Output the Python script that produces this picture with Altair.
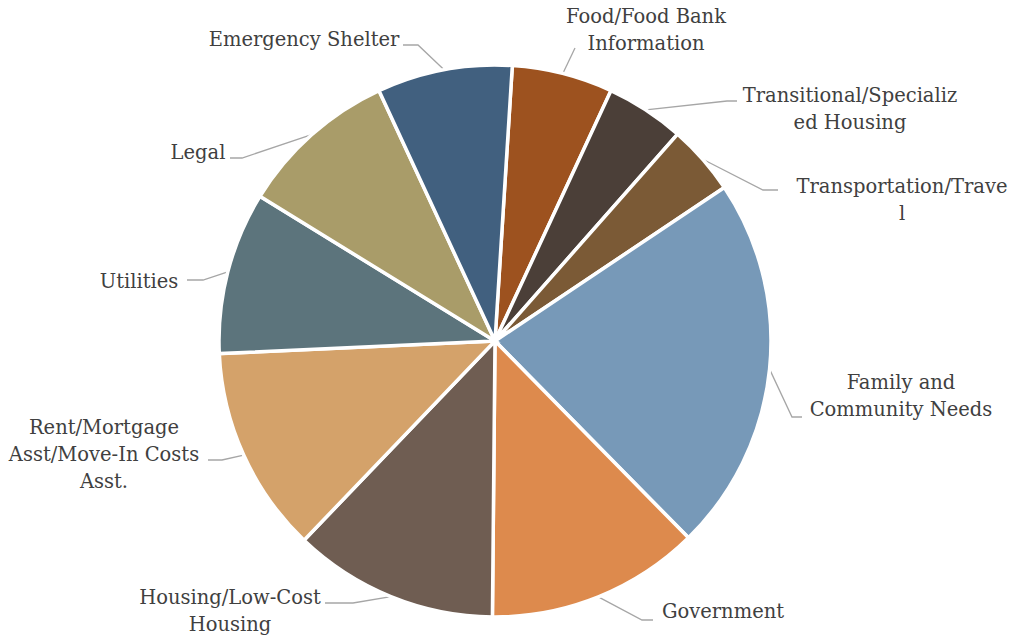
import math
import altair as alt
import pandas as pd

# ---------------- data ----------------
categories = [
    "Food/Food Bank Information",
    "Transitional/Specialized Housing",
    "Transportation/Travel",
    "Family and Community Needs",
    "Government",
    "Housing/Low-Cost Housing",
    "Rent/Mortgage Asst/Move-In Costs Asst.",
    "Utilities",
    "Legal",
    "Emergency Shelter",
]
label_text = [
    "Food/Food Bank\nInformation",
    "Transitional/Specializ\ned Housing",
    "Transportation/Trave\nl",
    "Family and\nCommunity Needs",
    "Government",
    "Housing/Low-Cost\nHousing",
    "Rent/Mortgage\nAsst/Move-In Costs\nAsst.",
    "Utilities",
    "Legal",
    "Emergency Shelter",
]
shares = [5.9, 4.6, 4.1, 22.0, 12.5, 12.0, 12.1, 9.5, 9.3, 7.9]

# ---------------- style / layout ----------------
colors = ["#9D521F", "#4B3F38", "#7B5A36", "#7799B8", "#DD8A4D",
          "#6F5D52", "#D4A26A", "#5C747C", "#A99C69", "#41607F"]
W, H = 1017, 637
CX, CY, R = 495, 341, 276
START_DEG = 3.6
# first-line centres of label blocks (px) and leader elbow/end points (px)
label_pos = [(646, 17), (850, 96), (902, 187), (901, 383), (723, 612),
             (230, 598), (104, 428), (139, 282), (198, 153), (304, 40)]
leader_pts = [
    [(575, 48), (575, 48)],
    [(727, 101), (737, 101)],
    [(763, 190), (778, 190)],
    [(792, 417), (802, 417)],
    [(642, 620), (653, 620)],
    [(353, 603), (325, 603)],
    [(222, 460), (208, 460)],
    [(203, 280), (187, 280)],
    [(242, 158), (230, 158)],
    [(418, 45), (403, 45)],
]


def ux(px):
    return (px - CX) / R


def uy(py):
    return (CY - py) / R


# ---------------- tables ----------------
pie_df = pd.DataFrame({
    "category": categories,
    "share": shares,
    "idx": list(range(len(categories))),
})

total = sum(shares)
rows = []
cum = 0.0
for i, (cat, v) in enumerate(zip(categories, shares)):
    mid = math.radians(START_DEG) + (cum + v / 2) / total * 2 * math.pi
    cum += v
    pts = [(math.sin(mid), math.cos(mid))] + [(ux(a), uy(b)) for a, b in leader_pts[i]]
    for k, (x, y) in enumerate(pts):
        rows.append({"category": cat, "k": k, "x": x, "y": y})
line_df = pd.DataFrame(rows)

lab_df = pd.DataFrame({
    "category": categories,
    "text": label_text,
    "x": [ux(p[0]) for p in label_pos],
    "y": [uy(p[1]) for p in label_pos],
})

xscale = alt.Scale(domain=[ux(0), ux(W)], nice=False, zero=False)
yscale = alt.Scale(domain=[uy(H), uy(0)], nice=False, zero=False)

off = math.radians(START_DEG)
pie = alt.Chart(pie_df).mark_arc(
    outerRadius=R, stroke="white", strokeWidth=3.5, strokeJoin="miter"
).encode(
    x=alt.X(datum=0, type="quantitative", scale=xscale, axis=None),
    y=alt.Y(datum=0, type="quantitative", scale=yscale, axis=None),
    theta=alt.Theta("share:Q", stack=True,
                    scale=alt.Scale(range=[off, off + 2 * math.pi])),
    color=alt.Color("category:N", scale=alt.Scale(domain=categories, range=colors),
                    legend=None),
    order=alt.Order("idx:Q"),
)

leaders = alt.Chart(line_df).mark_line(color="#A6A6A6", strokeWidth=1.3).encode(
    x=alt.X("x:Q", scale=xscale, axis=None),
    y=alt.Y("y:Q", scale=yscale, axis=None),
    detail="category:N",
    order="k:Q",
)

labels = alt.Chart(lab_df).mark_text(
    font="DejaVu Serif", fontSize=19.5, color="#404040", lineBreak="\n",
    lineHeight=27, align="center", baseline="middle"
).encode(
    x=alt.X("x:Q", scale=xscale, axis=None),
    y=alt.Y("y:Q", scale=yscale, axis=None),
    text="text:N",
)

chart = alt.layer(leaders, pie, labels).properties(
    width=W, height=H, padding=0, autosize=alt.AutoSizeParams(type="none"),
    background="white",
).configure_view(stroke=None)

chart.save("out.html", embed_options={"renderer": "svg", "actions": False})
